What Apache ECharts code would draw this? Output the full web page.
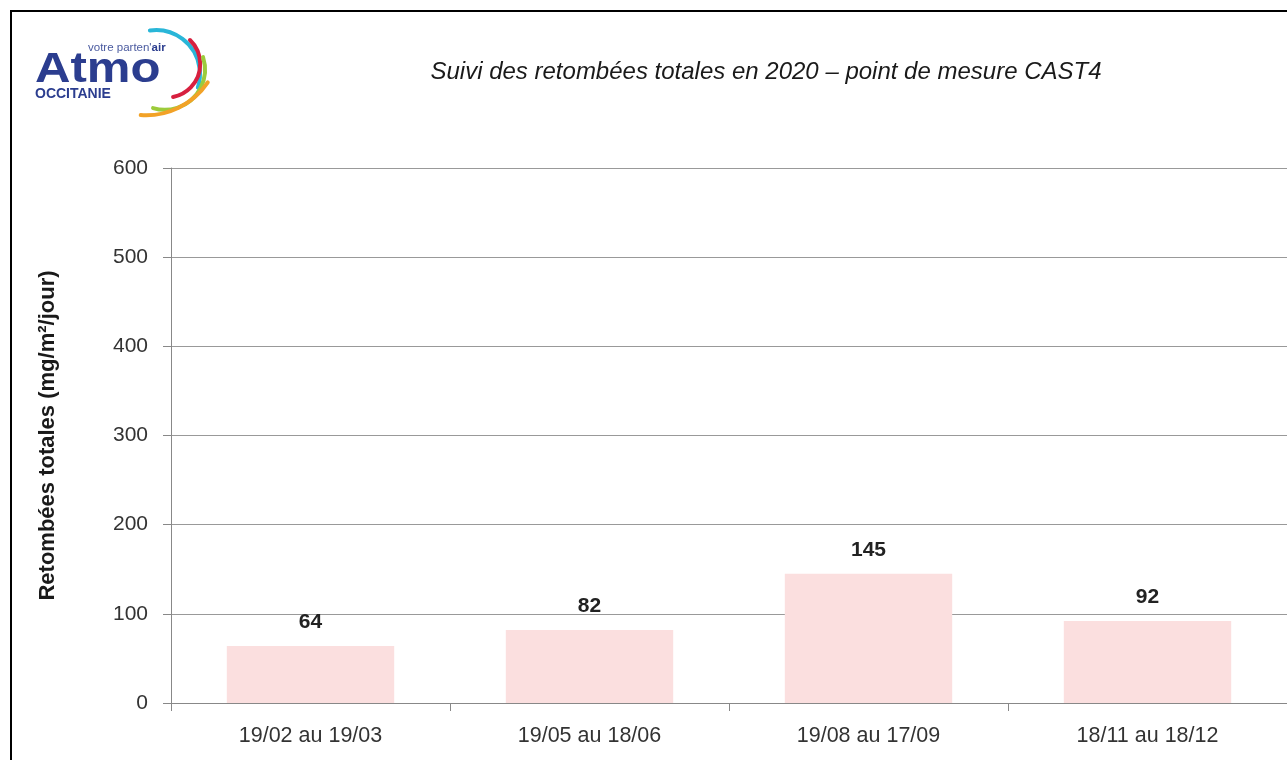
<!DOCTYPE html>
<html>
<head>
<meta charset="utf-8">
<script src="https://cdn.jsdelivr.net/npm/echarts@6/dist/echarts.min.js"></script>
<style>
  html, body {margin: 0; padding: 0; background: #fff;}
  #chart {width: 1287px; height: 760px;}
</style>
</head>
<body>
<div id="chart"></div>
<script>
// periodes de mesure (retombees totales 2020, CAST4)
const categories = ['19/02 au 19/03', '19/05 au 18/06', '19/08 au 17/09', '18/11 au 18/12'];
const values = [64, 82, 145, 92];
const yTicks = [0, 100, 200, 300, 400, 500, 600];

const fontFam = '"Liberation Sans", Arial, sans-serif';
const myChart = echarts.init(document.getElementById('chart'));

function logoArc(cx, cy, r, a0, a1, color) {   // arcs colores du logo
  return {
    type: 'arc',
    shape: {cx: cx, cy: cy, r: r, startAngle: a0 * Math.PI / 180, endAngle: a1 * Math.PI / 180},
    style: {stroke: color, lineWidth: 4, fill: null, lineCap: 'round'},
    silent: true
  };
}

const option = {
  backgroundColor: '#fff',
  animation: false,
  title: {
    text: 'Suivi des retombées totales en 2020 – point de mesure CAST4',
    left: 761,
    textAlign: 'center',
    top: 55,
    textStyle: {
      fontFamily: fontFam,
      fontStyle: 'italic',
      fontWeight: 'normal',
      fontSize: 24,
      color: '#1a1a1a'
    }
  },
  grid: {
    left: 171,
    top: 168,
    right: -2,
    bottom: 57
  },
  xAxis: {
    type: 'category',
    data: categories,
    axisLine: {show: true, lineStyle: {color: '#888', width: 1}},
    axisTick: {show: true, length: 8, alignWithLabel: false, lineStyle: {color: '#888'}},
    axisLabel: {
      margin: 22,
      fontFamily: fontFam,
      fontSize: 21.5,
      color: '#333'
    },
    splitLine: {show: false}
  },
  yAxis: {
    type: 'value',
    min: yTicks[0],
    max: yTicks[yTicks.length - 1],
    interval: 100,
    name: 'Retombées totales (mg/m²/jour)',
    nameLocation: 'middle',
    nameGap: 112,
    nameTextStyle: {
      fontFamily: fontFam,
      fontWeight: 'bold',
      fontSize: 22,
      color: '#1a1a1a'
    },
    axisLine: {show: true, lineStyle: {color: '#888', width: 1}},
    axisTick: {show: true, length: 8, lineStyle: {color: '#888'}},
    axisLabel: {
      margin: 23,
      fontFamily: fontFam,
      fontSize: 21,
      color: '#333'
    },
    splitLine: {show: true, lineStyle: {color: '#999', width: 1}}
  },
  series: [{
    type: 'bar',
    data: values,
    barCategoryGap: '40%',
    itemStyle: {color: '#fbdfdf'},
    label: {
      show: true,
      position: 'top',
      distance: 13,
      fontFamily: fontFam,
      fontWeight: 'bold',
      fontSize: 21,
      color: '#222'
    }
  }],
  graphic: [
    {   // cadre
      type: 'rect',
      shape: {x: 11, y: 11, width: 1320, height: 800},
      style: {fill: null, stroke: '#000', lineWidth: 2},
      silent: true, z: 100
    },
    {
      type: 'text',
      x: 35, y: 70,
      scaleX: 1.17,
      style: {
        text: 'Atmo',
        fontFamily: fontFam,
        fontWeight: 'bold',
        fontSize: 42,
        fill: '#2b3d8f',
        verticalAlign: 'middle'
      },
      silent: true
    },
    {
      type: 'text',
      x: 88, y: 48,
      style: {
        text: "votre parten'{b|air}",
        fontFamily: fontFam,
        fontSize: 11.5,
        fill: '#4a5a9f',
        verticalAlign: 'middle',
        rich: {b: {fontFamily: fontFam, fontSize: 11.5, fontWeight: 'bold', fill: '#2b3d8f'}}
      },
      silent: true
    },
    {
      type: 'text',
      x: 35, y: 94,
      style: {
        text: 'OCCITANIE',
        fontFamily: fontFam,
        fontWeight: 'bold',
        fontSize: 14,
        fill: '#2b3d8f',
        verticalAlign: 'middle'
      },
      silent: true
    },
    logoArc(156, 74, 44, -98, 18, '#29b6d8'),
    logoArc(166.7, 64.1, 33.5, -46, 79, '#d7203f'),
    logoArc(164.8, 69.6, 40.2, -18, 107, '#9ccb3b'),
    logoArc(145.9, 40.7, 74.6, 34, 94, '#f2a227')
  ]
};

myChart.setOption(option);
</script>
</body>
</html>
